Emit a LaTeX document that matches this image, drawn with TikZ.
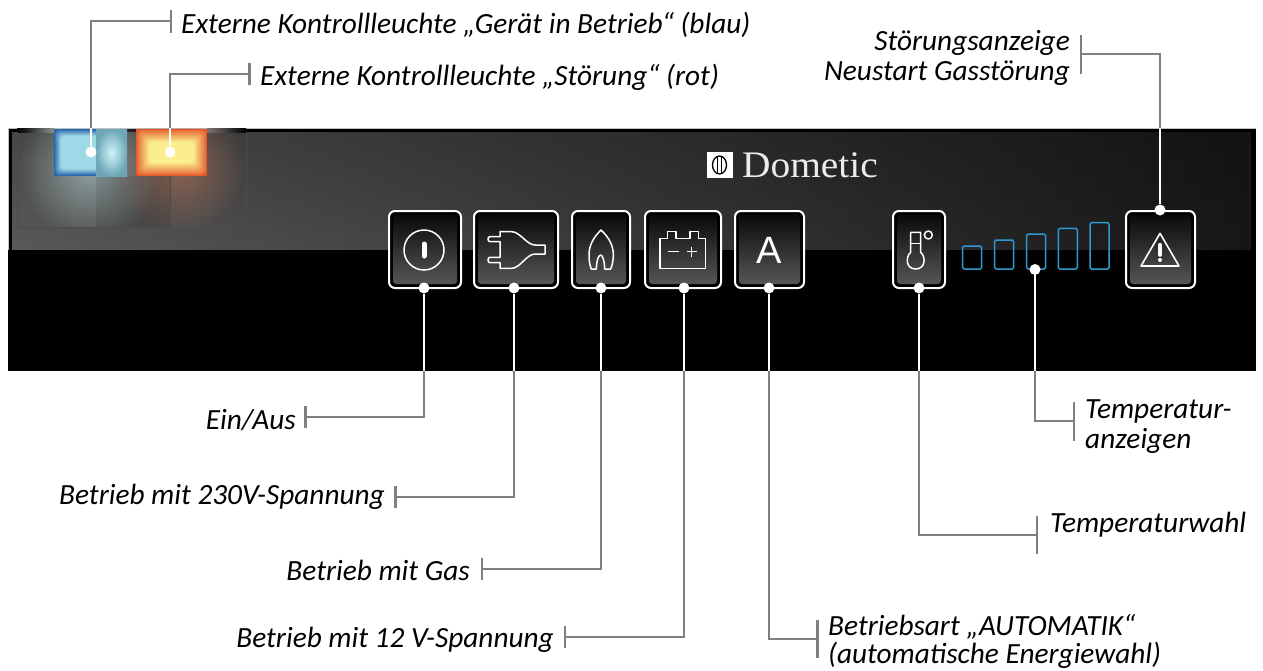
\documentclass[tikz,border=0pt]{standalone}
\usepackage{fontspec}
\usetikzlibrary{fadings,calc}
\newfontfamily\calloutfont{Carlito}
\newfontfamily\keyfont{Liberation Sans}
\newfontfamily\brandfont{Liberation Serif}
\definecolor{leadergray}{HTML}{808080}
\definecolor{keytop}{HTML}{0A0A0A}
\definecolor{keybottom}{HTML}{565656}
\definecolor{barblue}{HTML}{2D9AD6}
\definecolor{lampblueedge}{HTML}{2A66AD}
\definecolor{lampbluein}{HTML}{9FD8E6}
\definecolor{lampbluemid}{HTML}{CDF6FB}
\definecolor{lampblueside}{HTML}{6FA6B6}
\definecolor{lampredge}{HTML}{E4552A}
\definecolor{lampredin}{HTML}{FBEE8E}
\definecolor{glowblue}{HTML}{B0C8C8}
\definecolor{glowred}{HTML}{A87058}
\tikzfading[name=fadedown, top color=transparent!0, bottom color=transparent!100]
\tikzfading[name=glowfade, inner color=transparent!30, outer color=transparent!100]
\tikzset{
	panel/.style={fill=black, inner sep=0pt, outer sep=0pt, minimum width=1248pt, minimum height=243pt},
	keyframe/.style={draw=white, line width=2pt, fill=black, rounded corners=6pt, inner sep=0pt, minimum height=77pt},
	keyface/.style={top color=keytop, bottom color=keybottom, rounded corners=3pt, inner sep=0pt, minimum height=69pt},
	icon/.style={draw=white, line width=1.5pt, line join=round},
	leader/.style={draw=leadergray, line width=2.8pt},
	leaderin/.style={draw=white, line width=2.4pt},
	leadertick/.style={fill=leadergray, inner sep=0pt, minimum width=2.6pt},
	pindot/.style={circle, fill=white, inner sep=0pt, minimum size=11pt},
	callout/.style={inner sep=0pt, text=black, yshift=-1.5pt, font=\calloutfont\itshape\fontsize{29.3}{30}\selectfont},
	levelbar/.style={draw=barblue, line width=1.5pt, rounded corners=1.5pt},
}
\begin{document}
\begin{tikzpicture}[x=1pt, y=-1pt]
	\useasboundingbox (0,0) rectangle (1263,670);
	\node[panel] (panel) at (632,249.5) {};
	\draw[black!25, line width=.8pt] (8,250) -- (panel.north west) -- (panel.north east);
	\shade[left color=black!65, right color=black!91] (12,132) rectangle (1251,249);
	\fill[black, fill opacity=.2, path fading=fadedown] (12,132) rectangle (1251,249);

	% glow behind the two lamps
	\shade[left color=black, right color=black!50] (17,128) rectangle (54,132);
	\shade[left color=black!55, right color=black] (207,128) rectangle (246,132);
	\begin{scope}
		\clip (17,128) rectangle (246,227);
		\fill[glowblue, path fading=glowfade] (90,168) circle (72);
		\fill[glowred, path fading=glowfade] (180,168) circle (66);
		\fill[black, fill opacity=.08] (96,176) rectangle (170,227);
	\end{scope}
	\draw[black!70, line width=.7pt] (17,132) -- (17,227) -- (246,227) -- (246,132);
	\draw[black!70, line width=.7pt] (170,176) -- (170,227);

	% lamps
	\fill[lampblueedge] (54,129) rectangle (127,176);
	\foreach \i/\p in {1/15,2/30,3/45,4/60,5/75,6/90,7/100}
		\fill[lampbluein!\p!lampblueedge, rounded corners=4pt] ({54+\i},{129+\i}) rectangle ({127-\i},{176-\i});
	\shade[inner color=lampbluemid, outer color=lampblueside] (96,129) rectangle (127,176);
	\fill[lampredge] (136,129) rectangle (207,176);
	\foreach \i in {1,...,13}
		\fill[lampredin!\the\numexpr\i*7+9\relax!lampredge, rounded corners=4pt] ({136+\i},{129+\i}) rectangle ({207-\i},{176-\i});

	% brand
	\node[fill=white, inner sep=0pt, minimum size=26pt] (brandlogo) at (719.5,165) {};
	\draw[black, line width=1.3pt] (brandlogo) ellipse (7 and 9);
	\draw[black, line width=1.1pt] (717.8,156) -- (717.8,174) (721.2,156) -- (721.2,174);
	\node[anchor=base west, inner sep=0pt, text=white!92!black, xscale=1.05, font=\brandfont\fontsize{37.5}{40}\selectfont] (brandname) at (742,177) {Dometic};

	% keys
	\foreach \nm/\xa/\xb in {power/389/461, plug/474/558, flame/572/630, batt/645/721, auto/735/804, thermo/893/945, warn/1126/1195} {
		\node[keyframe, minimum width={(\xb-\xa)*1pt}] (\nm) at ({(\xa+\xb)/2},249.5) {};
		\node[keyface, minimum width={(\xb-\xa-8)*1pt}] (\nm face) at (\nm) {};
	}
	\draw[icon] (424,250) circle (20);
	\draw[white, line width=5pt, line cap=round] (424,244) -- (424,256);
	\begin{scope}[shift={(380,200)}, scale=1/3]
		\draw[icon] (360,95) -- (395,95) .. controls (420,95) and (440,135) .. (465,135) -- (495,135) -- (495,162) -- (465,162) .. controls (440,162) and (420,205) .. (395,205) -- (360,205) -- (360,188) -- (330,188) .. controls (322,188) and (322,172) .. (330,172) -- (360,172) -- (360,125) -- (330,125) .. controls (322,125) and (322,110) .. (330,110) -- (360,110) -- cycle;
		\draw[icon] (663,90) .. controls (690,115) and (700,140) .. (700,165) .. controls (700,180) and (697,195) .. (692,207) -- (674,207) .. controls (674,185) and (668,165) .. (662,165) .. controls (655,165) and (649,185) .. (649,207) -- (634,207) .. controls (629,195) and (627,180) .. (627,165) .. controls (627,140) and (637,115) .. (663,90) -- cycle;
		\draw[icon] (840,115) -- (863,115) -- (863,95) -- (888,95) -- (888,115) -- (930,115) -- (930,95) -- (955,95) -- (955,115) -- (976,115) -- (976,205) -- (840,205) -- cycle;
		\draw[icon] (865,155) -- (897,155) (920,155) -- (950,155) (935,140) -- (935,172);
	\end{scope}
	\node[inner sep=0pt, text=white, font=\keyfont\fontsize{38}{40}\selectfont] (autoletter) at (769,250) {A};
	\begin{scope}[shift={(880,200)}, scale=1/3]
		\draw[icon] (122,157) -- (122,97) -- (92,97) -- (92,157) .. controls (76,170) and (77,207) .. (107,207) .. controls (137,207) and (138,170) .. (122,157);
		\draw[icon] (92,130) -- (122,130);
		\draw[icon] (145,105) circle (12);
		\draw[levelbar] (248,138) rectangle (305,207);
		\draw[levelbar] (344,120) rectangle (401,207);
		\draw[levelbar] (440,102) rectangle (497,207);
		\draw[levelbar] (535,85) rectangle (592,207);
		\draw[levelbar] (630,68) rectangle (687,207);
		\draw[icon, line width=1.6pt] (840,100) -- (897,198) -- (783,198) -- cycle;
		\draw[white, line width=3.5pt, line cap=round] (840,134) -- (840,165);
		\fill[white] (840,180) circle (6);
	\end{scope}

	% dots and ticks
	\foreach \nm/\x/\y in {blue/91/152, red/170/152, warn/1160/210, power/424/288, plug/514/288, flame/601/288, batt/684/288, auto/769/288, thermo/919/288, bars/1035/269.5}
		\node[pindot] (dot\nm) at (\x,\y) {};
	\foreach \nm/\x/\y/\h in {blue/171/21/23, red/249.5/74/22, warn/1081/54/39, power/305.5/417/22, plug/395.5/497/22, flame/482/569/22, batt/565/637/22, auto/817.5/639/38, thermo/1037/535/38, bars/1074/421/39}
		\node[leadertick, minimum height={\h*1pt}] (tick\nm) at (\x,\y) {};
	\foreach \nm/\e in {blue/north, red/north, warn/north, power/south, plug/south, flame/south, batt/south, auto/south, thermo/south, bars/south}
		\draw[leader] (tick\nm.center) -| (dot\nm |- panel.\e);
	\foreach \nm/\e in {blue/north, red/north, warn/north, power/south, plug/south, flame/south, batt/south, auto/south, thermo/south, bars/south}
		\draw[leaderin] (dot\nm) -- (dot\nm |- panel.\e);

	% labels
	\node[callout, anchor=base west] (textblue) at (181,32) {Externe Kontrollleuchte „Gerät in Betrieb“ (blau)};
	\node[callout, anchor=base west] (textred) at (260,84) {Externe Kontrollleuchte „Störung“ (rot)};
	\node[callout, anchor=base east] (textwarna) at (1070,49) {Störungsanzeige};
	\node[callout, anchor=base east] (textwarnb) at (1070,79) {Neustart Gasstörung};
	\node[callout, anchor=base east] (textpower) at (296,428) {Ein/Aus};
	\node[callout, anchor=base east] (textplug) at (385,503) {Betrieb mit 230V-Spannung};
	\node[callout, anchor=base east] (textflame) at (470,579) {Betrieb mit Gas};
	\node[callout, anchor=base east] (textbatt) at (554,646) {Betrieb mit 12 V-Spannung};
	\node[callout, anchor=base west] (textautoa) at (828,634) {Betriebsart „AUTOMATIK“};
	\node[callout, anchor=base west] (textautob) at (828,661.5) {(automatische Energiewahl)};
	\node[callout, anchor=base west] (textthermo) at (1050,531) {Temperaturwahl};
	\node[callout, anchor=base west] (textbarsa) at (1085,417) {Temperatur-};
	\node[callout, anchor=base west] (textbarsb) at (1085,447) {anzeigen};
\end{tikzpicture}
\end{document}
